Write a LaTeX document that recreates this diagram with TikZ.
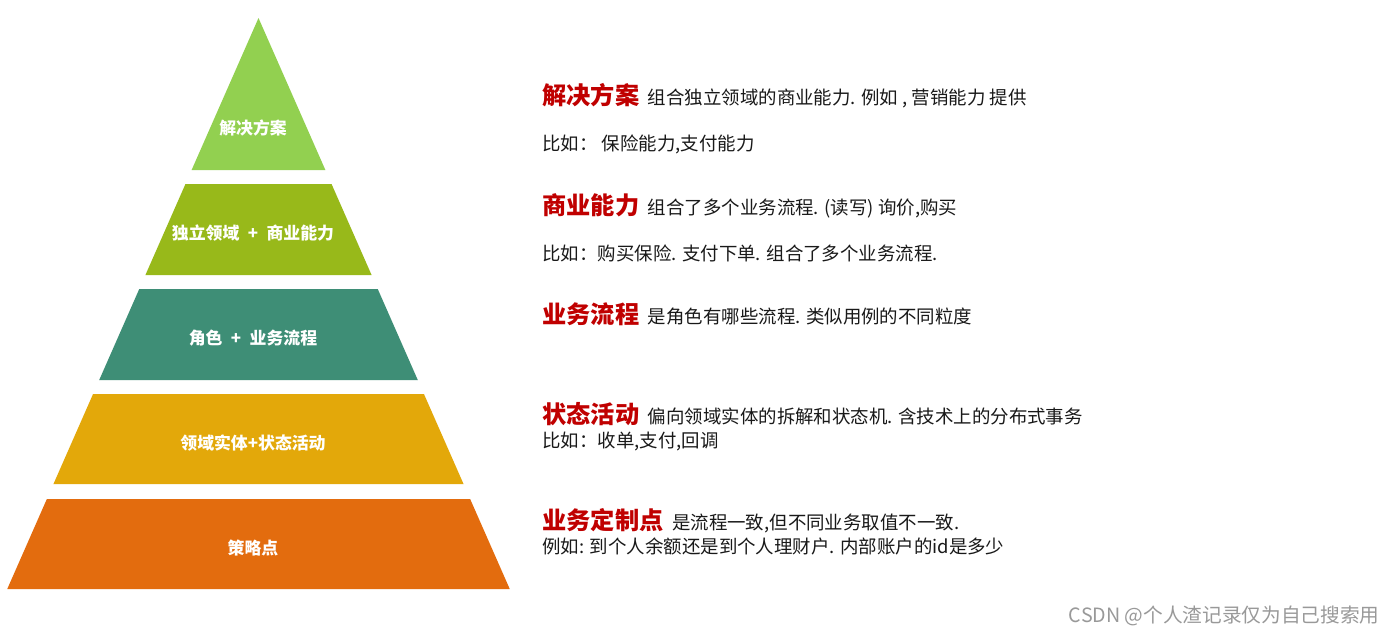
\documentclass[tikz,border=0pt]{standalone}
\usepackage{fontspec}
\newfontfamily\cjk{Noto Sans CJK SC}
\usetikzlibrary{positioning}
\definecolor{tierA}{HTML}{92D050}
\definecolor{tierB}{HTML}{98B91A}
\definecolor{tierC}{HTML}{3E8E76}
\definecolor{tierD}{HTML}{E3A80A}
\definecolor{tierE}{HTML}{E36C0E}
\definecolor{headred}{HTML}{C00000}
\tikzset{
  tier/.style={text=white, font=\cjk\bfseries\fontsize{9.6}{11}\selectfont},
  head/.style={text=headred, font=\cjk\bfseries\fontsize{13.8}{16}\selectfont, inner sep=0pt, anchor=base west},
  desc/.style={text=black!90, font=\cjk\fontsize{10.5}{12}\selectfont, inner sep=0pt, anchor=base west},
  wmark/.style={text=black!40, font=\cjk\fontsize{11.2}{13}\selectfont, inner sep=0pt, anchor=base east}
}
\begin{document}
\begin{tikzpicture}[x=0.02cm,y=-0.02cm]
\useasboundingbox[fill=white] (0,0) rectangle (1394,636);
% pyramid
\foreach \t/\b/\c/\n/\ly/\l in {18/170/tierA/t1/128/解决方案, 184/275/tierB/t2/233/独立领域\hspace{0.5em}+\hspace{0.5em}商业能力, 289/380/tierC/t3/338/角色\hspace{0.5em}+\hspace{0.5em}业务流程, 394/484/tierD/t4/443/领域实体+状态活动, 499/589/tierE/t5/548/策略点}{
  \fill[\c] ({258.5-(\t-18)*0.44},\t) -- ({258.5+(\t-18)*0.44},\t) -- ({258.5+(\b-18)*0.44},\b) -- ({258.5-(\b-18)*0.44},\b) -- cycle;
  \node[tier] (\n) at (253,\ly) {\l};
}
% descriptions
\node[head] (h1) at (542,104) {解决方案};
\node[desc] (d1) at ([xshift=4.5pt]h1.base east) {组合独立领域的商业能力. 例如 , 营销能力 提供};
\node[desc] (e1) at (542,150) {比如： 保险能力,支付能力};
\node[head] (h2) at (542,214) {商业能力};
\node[desc] (d2) at ([xshift=4.5pt]h2.base east) {组合了多个业务流程. (读写) 询价,购买};
\node[desc] (e2) at (542,260) {比如：购买保险. 支付下单. 组合了多个业务流程.};
\node[head] (h3) at (542,323) {业务流程};
\node[desc] (d3) at ([xshift=4.5pt]h3.base east) {是角色有哪些流程. 类似用例的不同粒度};
\node[head] (h4) at (542,423) {状态活动};
\node[desc] (d4) at ([xshift=4.5pt]h4.base east) {偏向领域实体的拆解和状态机. 含技术上的分布式事务};
\node[desc] (e4) at (542,447) {比如：收单,支付,回调};
\node[head] (h5) at (542,529) {业务定制点};
\node[desc] (d5) at ([xshift=4.5pt]h5.base east) {是流程一致,但不同业务取值不一致.};
\node[desc] (e5) at (542,553) {例如: 到个人余额还是到个人理财户. 内部账户的id是多少};
\node[wmark] (wm) at (1380,622) {CSDN @个人渣记录仅为自己搜索用};
\end{tikzpicture}
\end{document}
